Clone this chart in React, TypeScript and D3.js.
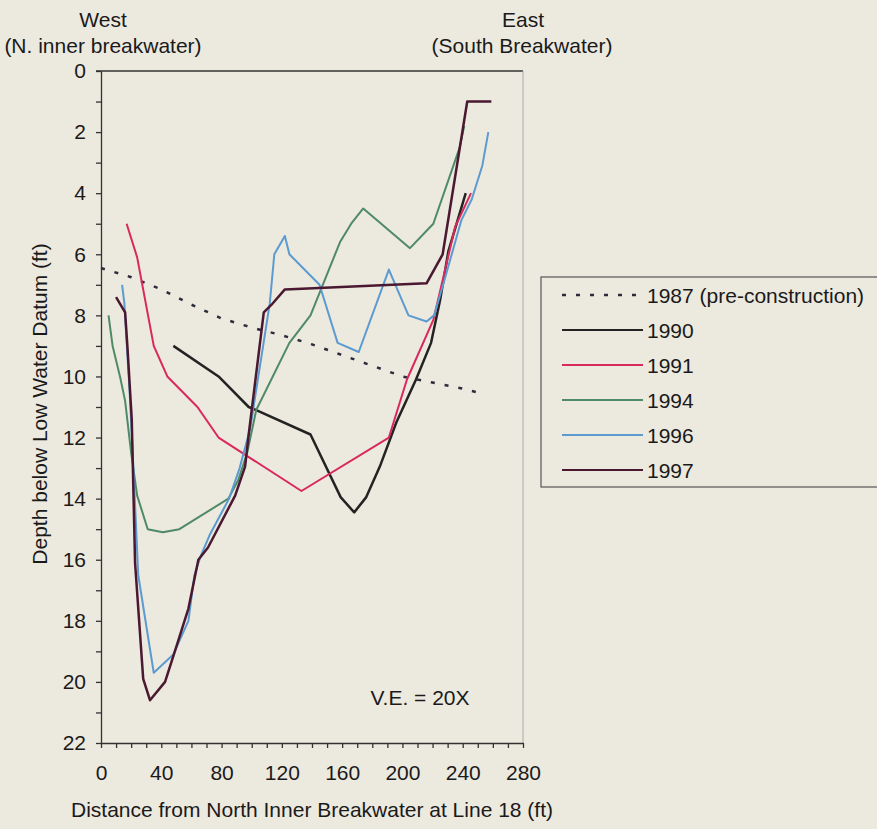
import { useRef, useEffect } from 'react';
import * as d3 from 'd3';

// [distance ft, depth ft]
const s1987: [number, number][] = [
  [0, 6.45], [20, 6.75], [40, 7.15], [60, 7.65], [80, 8.1], [100, 8.4], [120, 8.65],
  [140, 8.95], [160, 9.3], [180, 9.65], [200, 10.0], [220, 10.2], [240, 10.4], [252, 10.55],
];
const s1990: [number, number][] = [
  [48, 9], [78, 10], [98, 11], [103, 11.1], [139, 11.9], [159, 13.95], [168, 14.45],
  [176, 13.95], [185, 12.95], [196, 11.5], [209, 10.1], [219, 8.9], [225, 7.5], [230.5, 5.9], [242, 4],
];
const s1991: [number, number][] = [
  [17, 5], [24, 6.1], [35, 9], [44, 10], [64, 11], [78, 12], [133, 13.75], [191, 12],
  [203, 10.1], [220.5, 8.15], [235, 5.1], [245.5, 4],
];
const s1994: [number, number][] = [
  [5, 8], [7.7, 9], [12.6, 10], [16, 10.8], [20, 12.5], [24, 13.9], [31, 15], [41, 15.1],
  [52, 15], [84.5, 14], [91, 13.4], [97, 12.5], [103, 11.1], [125, 8.9], [139, 8],
  [158.6, 5.6], [166, 5], [174, 4.5], [205, 5.8], [220.5, 5], [238, 2.5], [241, 1.8],
];
const s1996: [number, number][] = [
  [14, 7], [15.5, 7.6], [19, 10.5], [21.5, 13], [24.7, 16.5], [35, 19.7], [48, 19.1],
  [58, 18], [62, 16.5], [66, 15.9], [72, 15.2], [85, 14], [92, 13], [99, 11.7], [112, 7.6],
  [115, 6], [122, 5.4], [125, 6], [145, 7], [157, 8.9], [171, 9.2], [191, 6.5], [204, 8],
  [216, 8.2], [221, 8], [227, 7], [239, 4.9], [246, 4.2], [253, 3.1], [257, 2],
];
const s1997: [number, number][] = [
  [10, 7.4], [16, 7.9], [17.5, 9], [20.4, 11.4], [22.6, 16.1], [28, 19.9], [32.5, 20.6],
  [42.5, 20], [49, 19], [58, 17.6], [64.6, 16], [71, 15.6], [89, 13.9], [95.6, 12.95],
  [98, 11.9], [108, 7.9], [113, 7.66], [122, 7.15], [216, 6.95], [226.7, 6], [243, 1], [259, 1],
];

const seriesNames = ['1987 (pre-construction)', '1990', '1991', '1994', '1996', '1997'];
const seriesData = [s1987, s1990, s1991, s1994, s1996, s1997];
const colors = ['#2c2c3c', '#232323', '#d9285c', '#4f8a66', '#5b9bd0', '#4a1830'];
const widths = [2.5, 2.5, 2, 2, 2, 2.5];

const xTicks = d3.range(0, 281, 10);
const yTicks = d3.range(0, 23, 1);

const W = 877;
const H = 829;
const FONT = 'Liberation Sans, Arial, sans-serif';

function App() {
  const xAxisRef = useRef<SVGGElement>(null);
  const yAxisRef = useRef<SVGGElement>(null);

  const x = d3.scaleLinear().domain([0, 280]).range([101, 523]);
  const y = d3.scaleLinear().domain([0, 22]).range([71, 743]);
  const line = d3
    .line<[number, number]>()
    .x((d) => x(d[0]))
    .y((d) => y(d[1]));

  useEffect(() => {
    document.body.style.margin = '0';
    document.body.style.background = '#ece9df';

    const xAxis = d3
      .axisBottom(x)
      .tickValues(xTicks)
      .tickSize(5)
      .tickSizeOuter(0)
      .tickPadding(17)
      .tickFormat((d) => ((d as number) % 40 === 0 ? String(d) : ''));
    const yAxis = d3
      .axisLeft(y)
      .tickValues(yTicks)
      .tickSize(5)
      .tickSizeOuter(0)
      .tickPadding(10)
      .tickFormat((d) => ((d as number) % 2 === 0 ? String(d) : ''));

    const gx = d3.select(xAxisRef.current!);
    gx.selectAll('*').remove();
    gx.call(xAxis);
    const gy = d3.select(yAxisRef.current!);
    gy.selectAll('*').remove();
    gy.call(yAxis);

    [gx, gy].forEach((g) => {
      g.attr('font-family', FONT).attr('font-size', 21);
      g.selectAll('path, line').attr('stroke', '#333').attr('stroke-width', 1.3);
      g.selectAll('text').attr('fill', '#1a1a1a');
    });
  }, []);

  return (
    <svg width={W} height={H} style={{ display: 'block', background: '#ece9df' }}>
      <rect x={0} y={0} width={W} height={H} fill="#ece9df" />
      {/* frame */}
      <line x1={96} x2={523} y1={71} y2={71} stroke="#333" strokeWidth={1.3} />
      <line x1={523} x2={523} y1={71} y2={743} stroke="#aaa" strokeWidth={1} />

      <g ref={xAxisRef} transform={`translate(0, ${y(22)})`} />
      <g ref={yAxisRef} transform={`translate(${x(0)}, 0)`} />

      {seriesData.map((s, i) => (
        <path
          key={seriesNames[i]}
          d={line(s) ?? ''}
          fill="none"
          stroke={colors[i]}
          strokeWidth={widths[i]}
          strokeDasharray={i === 0 ? '4 10' : undefined}
          strokeLinejoin="round"
        />
      ))}

      <g fontFamily={FONT} fontSize={21} fill="#1a1a1a">
        <text x={103} y={27} textAnchor="middle">West</text>
        <text x={103} y={53} textAnchor="middle">(N. inner breakwater)</text>
        <text x={523} y={27} textAnchor="middle">East</text>
        <text x={522} y={53} textAnchor="middle">(South Breakwater)</text>
        <text x={420} y={705} textAnchor="middle">V.E. = 20X</text>
        <text x={312} y={817} textAnchor="middle">
          Distance from North Inner Breakwater at Line 18 (ft)
        </text>
        <text transform="translate(47, 404) rotate(-90)" textAnchor="middle">
          Depth below Low Water Datum (ft)
        </text>
      </g>

      {/* legend */}
      <g fontFamily={FONT} fontSize={21} fill="#1a1a1a">
        <rect x={541} y={277} width={345} height={210} fill="none" stroke="#555" strokeWidth={1.2} />
        {seriesNames.map((name, i) => {
          const ly = 295 + i * 35;
          return (
            <g key={name}>
              <line
                x1={562}
                x2={643}
                y1={ly}
                y2={ly}
                stroke={colors[i]}
                strokeWidth={i === 0 ? 2.5 : 2}
                strokeDasharray={i === 0 ? '4 10' : undefined}
              />
              <text x={647} y={ly + 7.5}>{name}</text>
            </g>
          );
        })}
      </g>
    </svg>
  );
}

export default App;
